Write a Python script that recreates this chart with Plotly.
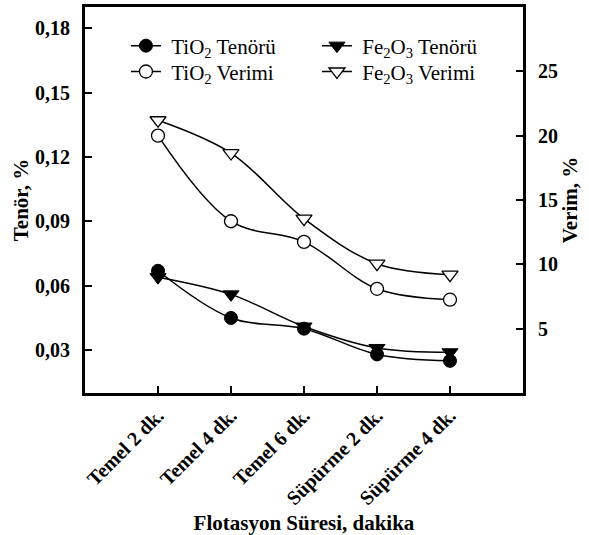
import plotly.graph_objects as go

categories = ["Temel 2 dk.", "Temel 4 dk.", "Temel 6 dk.", "Süpürme 2 dk.", "Süpürme 4 dk."]
tio2_tenor = [0.067, 0.045, 0.040, 0.028, 0.025]
fe2o3_tenor = [0.064, 0.056, 0.041, 0.031, 0.029]
tio2_verim = [20.0, 13.35, 11.75, 8.1, 7.25]
fe2o3_verim = [21.2, 18.65, 13.55, 10.05, 9.2]

left_ticks = [0.03, 0.06, 0.09, 0.12, 0.15, 0.18]
right_ticks = [5, 10, 15, 20, 25]

FONT = "Liberation Serif"
NB = "\u00a0"
x = list(range(len(categories)))

fig = go.Figure()

line = dict(color="black", width=1.5, shape="spline", smoothing=1.0)

# draw order: Fe2O3 below TiO2
fig.add_trace(go.Scatter(x=x, y=fe2o3_tenor, name=NB + "Fe<sub>2</sub>O<sub>3</sub> Tenörü", mode="lines+markers",
                         line=line, marker=dict(symbol="triangle-down", size=14, color="black",
                                                line=dict(color="black", width=1)),
                         legend="legend", legendrank=2, yaxis="y"))
fig.add_trace(go.Scatter(x=x, y=fe2o3_verim, name=NB + "Fe<sub>2</sub>O<sub>3</sub> Verimi", mode="lines+markers",
                         line=line, marker=dict(symbol="triangle-down", size=14, color="white",
                                                line=dict(color="black", width=1.3)),
                         legend="legend2", legendrank=2, yaxis="y2"))
fig.add_trace(go.Scatter(x=x, y=tio2_tenor, name=NB + "TiO<sub>2</sub> Tenörü", mode="lines+markers",
                         line=line, marker=dict(symbol="circle", size=13, color="black",
                                                line=dict(color="black", width=1)),
                         legend="legend", legendrank=1, yaxis="y"))
fig.add_trace(go.Scatter(x=x, y=tio2_verim, name=NB + "TiO<sub>2</sub> Verimi", mode="lines+markers",
                         line=line, marker=dict(symbol="circle", size=13, color="white",
                                                line=dict(color="black", width=1.3)),
                         legend="legend2", legendrank=1, yaxis="y2"))

tickfont = dict(family=FONT, size=20, color="black", weight="bold")
titlefont = dict(family=FONT, size=21, color="black", weight="bold")
legfont = dict(family=FONT, size=21, color="black")

leg_common = dict(x=0.0935, xanchor="left", yanchor="middle", font=legfont, orientation="h",
                  bgcolor="rgba(0,0,0,0)", entrywidth=146, entrywidthmode="pixels",
                  traceorder="normal", itemclick=False)

fig.update_layout(
    width=589, height=535,
    margin=dict(l=85, r=66, t=7, b=142, autoexpand=False),
    paper_bgcolor="white", plot_bgcolor="white",
    separators=",.",
    showlegend=True,
    xaxis=dict(
        range=[-1, 5], tickmode="array", tickvals=x, ticktext=categories,
        tickangle=-45, tickfont=tickfont, automargin=True,
        ticks="inside", ticklen=7, tickwidth=1.5, tickcolor="black",
        showline=True, linecolor="black", linewidth=3, mirror=True,
        showgrid=False, zeroline=False,
        title=dict(text="Flotasyon Süresi, dakika", font=titlefont, standoff=10),
    ),
    yaxis=dict(
        range=[0.01, 0.19], tickmode="array", tickvals=left_ticks, tickformat=".2f",
        tickfont=tickfont, ticks="inside", ticklen=7, tickwidth=1.5, tickcolor="black",
        showline=True, linecolor="black", linewidth=3, mirror=True, automargin=True,
        showgrid=False, zeroline=False, ticklabelstandoff=8,
        title=dict(text="Tenör, %", font=titlefont, standoff=1),
    ),
    yaxis2=dict(
        range=[0, 30], tickmode="array", tickvals=right_ticks,
        tickfont=tickfont, ticks="inside", ticklen=7, tickwidth=1.5, tickcolor="black",
        showline=True, linecolor="black", linewidth=3, automargin=True,
        overlaying="y", side="right", anchor="x",
        showgrid=False, zeroline=False, ticklabelstandoff=8,
        title=dict(text="Verim, %", font=titlefont, standoff=0),
    ),
    legend=dict(y=0.899, **leg_common),
    legend2=dict(y=0.832, **leg_common),
)

fig.write_html("out.html")
